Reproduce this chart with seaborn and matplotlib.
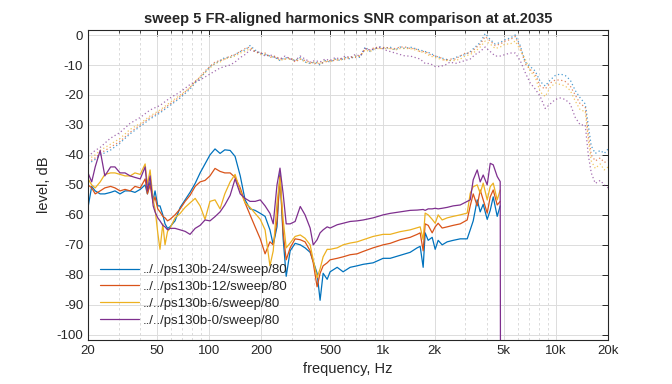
import matplotlib
matplotlib.use("Agg")
import numpy as np
import pandas as pd
import matplotlib.pyplot as plt
import matplotlib.ticker as mticker
import seaborn as sns

# harmonics (solid)
harm_freq = [20, 21, 22, 23.5, 25, 27, 28.6, 30.6, 32.7, 35,
             37.3, 40, 42.7, 44, 45.6, 47.5, 48.7, 50.5, 52, 54,
             55.6, 57.5, 59.4, 63.5, 68, 72.6, 77.5, 83, 88.6, 94.6,
             101, 108, 115.5, 123, 132, 141, 151, 161, 172, 184,
             197, 210, 224, 234, 246, 256, 267, 278, 293, 313,
             335, 357, 382, 398, 419, 436, 454, 479, 498, 547,
             592, 650, 713, 773, 882, 1007, 1106, 1263, 1442, 1583,
             1647, 1714, 1760, 1832, 1932, 2011, 2092, 2206, 2358, 2554,
             2804, 3076, 3202, 3332, 3514, 3656, 3804, 4012, 4176, 4346,
             4582, 4768]

harm_24 = [-57.5, -50.5, -52, -53, -53, -52.5, -52, -53, -52, -52,
           -52.5, -51.5, -50, -53, -49, -55, -52, -57, -57, -60,
           -63, -64.5, -64, -62, -57.5, -55, -52.5, -49.5, -46, -43,
           -40, -38, -39.5, -38.3, -38.5, -40.5, -47, -55, -58, -58.5,
           -59.5, -60.5, -65, -70, -64, -46, -68, -80.5, -72, -69.5,
           -70, -71, -72.5, -75.5, -79.5, -88.5, -79.5, -81.5, -79, -77.5,
           -79, -77.5, -77, -76.5, -76, -74.5, -74.5, -73.5, -72.5, -71,
           -70.5, -77.5, -66, -68.5, -67.5, -71.5, -68.5, -70, -69, -68.5,
           -68, -68, -65, -62, -55, -59, -56.5, -61.5, -58.5, -54,
           -60.5, -57]
harm_12 = [-50, -51, -53, -52, -51, -50.5, -51, -52, -51.5, -52,
           -50.5, -51, -48, -53, -50, -56, -54, -58, -59, -60.5,
           -61, -62, -61.5, -60, -58, -55.5, -53.5, -50.5, -49, -48.5,
           -47, -44.5, -45.5, -46, -46, -47.5, -51, -56, -60, -64,
           -68, -73, -69, -70, -62, -47, -66, -75, -71, -68,
           -68.3, -69, -72, -76, -84, -79.5, -77, -76, -75, -74.5,
           -74, -73.3, -73, -72.2, -71, -70, -69.5, -68.3, -67.5, -66.5,
           -66, -72, -63, -63.5, -66, -64, -62.8, -64.4, -64, -63.5,
           -63, -61.7, -57, -53, -57, -51.7, -55, -59.4, -54, -51.7,
           -56.7, -55.5]
harm_6 = [-48, -50, -51, -49, -46.5, -46, -46, -46.5, -47, -47,
          -46, -46.5, -43, -50, -45, -55, -58, -66, -71.5, -63,
          -70, -65.5, -64.5, -61, -59.5, -57.5, -56, -54.5, -57, -61.5,
          -55.5, -55, -58, -53, -49, -46.5, -52, -56, -57.5, -59.5,
          -61.5, -65, -77, -72, -56, -47.5, -61.7, -71, -69.4, -67.2,
          -66.7, -67.8, -70, -75, -81, -78, -74, -71.5, -71.5, -71,
          -70, -69.4, -69, -68.3, -67.2, -66.5, -66.5, -65.6, -65, -64.3,
          -64, -68.3, -59.4, -60, -61.5, -62.8, -60, -61.7, -61, -60.5,
          -60, -59.4, -52.8, -50.6, -50, -52.8, -49.4, -55, -50.6, -49.4,
          -55, -51.7]
harm_0 = [-46, -49, -44, -38.5, -47, -44, -44, -46, -46, -47,
          -47.5, -48, -44, -52, -47, -57, -59, -61, -62, -63.5,
          -64, -65, -64.5, -64.5, -65, -65.5, -66.5, -64.5, -63.5, -61.7,
          -62, -60.6, -59, -56.7, -53.5, -48, -53, -54.5, -55.5, -55.5,
          -55, -57, -59.5, -63, -50, -44.4, -53, -63, -63, -62.2,
          -57.2, -60, -64.4, -70, -68.3, -66, -65, -64, -64.4, -63.3,
          -62.8, -62.2, -62, -61.7, -61, -60, -59.5, -59, -58.5, -58.4,
          -58.3, -58.2, -58.5, -58, -58, -57.8, -58, -57.8, -57.5, -57,
          -56.7, -55.5, -55, -48.3, -45, -49, -46.7, -50, -42.8, -43.3,
          -47.2, -48.9, -130]
harm_0_freq = harm_freq + [4790]

# frequency responses (dotted)
fr_freq = [20, 22, 23.5, 26.8, 30.6, 34.9, 40, 45.6, 52, 59.4, 68, 77.5,
           83, 88.6, 94.6, 101, 108, 115.5, 123, 132, 141, 151, 161, 172, 184, 197,
           210, 224, 240, 256, 274, 293, 313, 335, 357, 382, 408, 436, 466, 498,
           533, 569, 608, 650, 695, 742, 793, 848, 906, 968, 1035, 1106, 1182, 1263,
           1350, 1442, 1542, 1647, 1760, 1881, 2011, 2149, 2296, 2454, 2622, 2804,
           2995, 3202, 3422, 3656, 3906, 4176, 4462, 4768, 5096, 5445, 5820, 6218,
           6645, 7101, 7588, 8110, 8669, 9266, 9902, 10584, 11310, 12088, 12918,
           13806, 14756, 15356, 15978, 16852, 18008, 18990, 20000]

fr_24 = [-43, -41.5, -40, -38.5, -36, -33, -30.5, -28, -26, -23.5, -21, -18,
         -16, -14.5, -12.5, -10.5, -9.5, -8.5, -7.5, -7.5, -6.5, -5.5, -5, -3.5, -5, -6,
         -6.5, -7, -7.5, -8.5, -7.5, -8, -8.5, -7.5, -9, -9.5, -9, -10, -8.5, -9,
         -8, -8.5, -7.5, -8, -7, -7.5, -4, -5.5, -4.5, -4, -4.5, -4, -5, -4,
         -4.5, -4, -4.5, -5, -5.5, -6, -7, -7.5, -8, -8.5, -7.5, -7,
         -6.5, -5.5, -4, -2.5, 0.5, -1.5, -3, -2.5, -1.5, -1, 0, -3.5,
         -9, -10.5, -12, -15.5, -17, -15, -13.5, -13, -13.5, -15, -18.5,
         -21, -23, -30, -37, -39.5, -38.5, -39.5, -38]
fr_12 = [-42.5, -41, -39.5, -37.5, -35.5, -32.5, -30, -27.5, -25.5, -23, -20.5, -17.5,
         -15.5, -14, -12, -10.5, -9, -8.5, -8, -7, -6.5, -5.5, -4.5, -4, -5.5, -6,
         -6, -7.5, -7, -8, -8, -7.5, -9, -8, -8.5, -9, -9.5, -9.5, -9, -8.5,
         -8.5, -8, -8, -7.5, -7.5, -7, -4.5, -5, -4, -4.5, -4, -4.5, -4.5, -4,
         -4, -4.5, -4.5, -5.5, -5.5, -6.5, -7, -7.5, -8.5, -8, -8, -7,
         -6, -6, -4.5, -3, -0.5, -2, -3.5, -3, -2, -1.5, -0.5, -4,
         -9.5, -11.5, -13, -17, -18, -16, -15, -15, -15.5, -17, -20,
         -23, -24, -33, -40, -42, -41, -42.5, -42]
fr_6 = [-41.5, -40, -38.5, -36.5, -34.5, -31.5, -29.5, -27, -25, -22.5, -20, -17.5,
        -15.5, -14, -12.5, -11, -9.5, -9, -8, -7.5, -7, -6, -5.5, -4.5, -5.5, -6.5,
        -6.5, -7, -7.5, -8.5, -8, -8, -8.5, -8, -9, -9.5, -9, -9.5, -8.5, -9,
        -8, -8.5, -7.5, -7.5, -7, -7, -5, -5.5, -4.5, -4.5, -4.5, -4.5, -5, -4.5,
        -4.5, -4.5, -5, -5.5, -6, -7, -7.5, -8, -8.5, -8.5, -8.5, -8,
        -7, -6.5, -5.5, -4, -2, -3, -4.5, -4, -3, -3, -2, -5,
        -8, -12, -14, -19, -20.5, -17.5, -16, -16.5, -17, -18.5, -22,
        -25, -25.5, -35, -42, -44.5, -43, -45, -44]
fr_0 = [-40.5, -38.5, -37.5, -34.5, -32.5, -29.5, -27.5, -25, -23.5, -21, -19, -16.5,
        -15.5, -15, -14, -13, -12, -11, -10.5, -10, -9, -7.5, -6.5, -5, -5.5, -6,
        -7, -6.5, -7.5, -8, -7, -8, -8.5, -7, -8, -9, -8.5, -9, -8, -8.5,
        -7.5, -8, -7, -7.5, -6.5, -7, -4.5, -5, -4.5, -4, -5, -5.5, -6, -6.5,
        -7, -7, -7.5, -8, -9.5, -9.5, -10.5, -10.5, -10, -9, -9.5, -9,
        -8.5, -8, -6.5, -5.5, -4, -5.5, -7, -7, -6.5, -6, -6, -8.5,
        -12.5, -16, -18, -20.5, -24.5, -23, -21.5, -21, -21.5, -23, -27.5,
        -30, -30, -40, -46, -49.5, -48.5, -50, -51]

labels = ["../../ps130b-24/sweep/80", "../../ps130b-12/sweep/80",
          "../../ps130b-6/sweep/80", "../../ps130b-0/sweep/80"]
colors = ["#0072BD", "#D95319", "#EDB120", "#7E2F8E"]

sns.set_style("white")
plt.rcParams["font.family"] = ["Liberation Sans", "DejaVu Sans"]
plt.rcParams["axes.unicode_minus"] = False

fig = plt.figure(figsize=(6.72, 3.84), dpi=100)
ax = fig.add_axes([0.131, 0.115, 0.774, 0.807])

harm = [(harm_freq, harm_24), (harm_freq, harm_12), (harm_freq, harm_6), (harm_0_freq, harm_0)]
fr = [fr_24, fr_12, fr_6, fr_0]

handles = []
for (f, v), r, c, lab in zip(harm, fr, colors, labels):
    sns.lineplot(x=fr_freq, y=r, ax=ax, color=c, lw=0.9, linestyle=(0, (1, 2)),
                 estimator=None, sort=False, alpha=0.7)
    sns.lineplot(x=f, y=v, ax=ax, color=c, lw=0.9, estimator=None, sort=False)
    handles.append(ax.lines[-1])

ax.set_xscale("log")
ax.set_xlim(20, 20000)
ax.set_ylim(-101.7, 1.7)
xt = [20, 50, 100, 200, 500, 1000, 2000, 5000, 10000, 20000]
ax.set_xticks(xt)
ax.set_xticklabels(["20", "50", "100", "200", "500", "1k", "2k", "5k", "10k", "20k"])
ax.xaxis.set_minor_locator(mticker.LogLocator(base=10, subs=np.arange(2, 10)))
ax.xaxis.set_minor_formatter(mticker.NullFormatter())
ax.set_yticks(np.arange(-100, 1, 10))

ax.grid(which="major", color="#dcdcdc", lw=0.7, ls="-")
ax.grid(which="minor", axis="x", color="#d6d6d6", lw=0.6, ls=(0, (3, 3)))
ax.set_axisbelow(True)
ax.tick_params(which="both", direction="in", top=True, right=True, labelsize=9.5,
               colors="#262626")
ax.tick_params(which="major", length=4, width=0.7)
ax.tick_params(which="minor", length=2.5, width=0.6)
for s in ax.spines.values():
    s.set_color("#262626")
    s.set_linewidth(0.8)

ax.set_xlabel("frequency, Hz", fontsize=10.5, color="#262626")
ax.set_ylabel("level, dB", fontsize=10.5, color="#262626")
ax.set_title("sweep 5 FR-aligned harmonics SNR comparison at at.2035",
             fontsize=10.5, fontweight="bold", pad=5)

ax.legend(handles, labels, loc="lower left", bbox_to_anchor=(0.012, 0.025),
          frameon=False, fontsize=9.5, handlelength=3.0, handletextpad=0.25,
          labelspacing=0.35, borderaxespad=0)

fig.savefig("out.png", dpi=100)
